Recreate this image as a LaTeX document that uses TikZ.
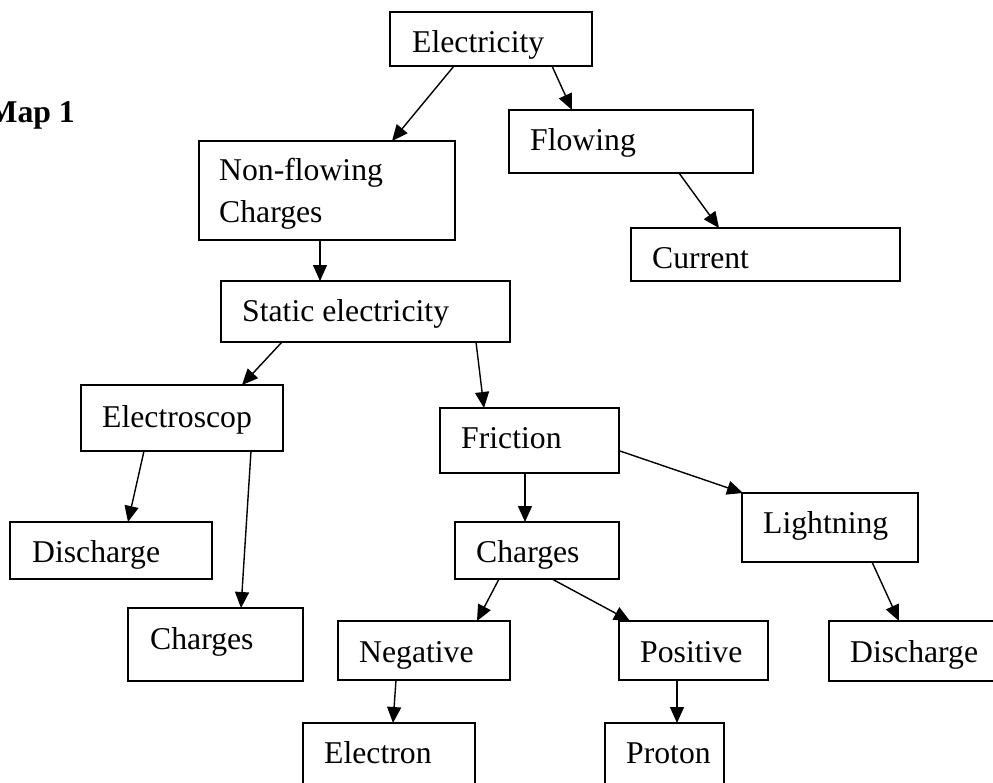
\documentclass[tikz,border=0pt]{standalone}
\usepackage{fontspec}
\setmainfont{Liberation Serif}
\usetikzlibrary{arrows.meta,calc}
\tikzset{
  box/.style={draw=black, line width=1.5pt, rectangle, inner sep=0pt, outer sep=0pt, anchor=north west},
  lbl/.style={anchor=base west, inner sep=0pt, font=\fontsize{31.7}{38}\selectfont},
  arr/.style={draw=black, line width=1.4pt, -{Triangle[length=16pt,width=14pt]}}
}
\begin{document}
\begin{tikzpicture}[x=1pt,y=-1pt]
\useasboundingbox (0,0) rectangle (993,782);
% title
\node[anchor=base east, inner sep=0pt, font=\fontsize{31.7}{38}\selectfont\bfseries] (title) at (75,122) {Map 1};
% boxes
\node[box, minimum width=202pt, minimum height=54pt] (E)  at (390,12) {};
\node[box, minimum width=244pt, minimum height=63pt] (Fl) at (509,110) {};
\node[box, minimum width=269pt, minimum height=53pt] (Cur) at (631,228) {};
\node[box, minimum width=256pt, minimum height=99pt] (NF) at (199,141) {};
\node[box, minimum width=289pt, minimum height=61pt] (St) at (221,281) {};
\node[box, minimum width=202pt, minimum height=66pt] (Es) at (81,385) {};
\node[box, minimum width=202pt, minimum height=57pt] (DL) at (10,522) {};
\node[box, minimum width=175pt, minimum height=73pt] (CL) at (128,608) {};
\node[box, minimum width=179pt, minimum height=65pt] (Fr) at (440,408) {};
\node[box, minimum width=164pt, minimum height=57pt] (CM) at (455,522) {};
\node[box, minimum width=176pt, minimum height=69pt] (Li) at (742,493) {};
\node[box, minimum width=172pt, minimum height=59pt] (Neg) at (338,621) {};
\node[box, minimum width=149pt, minimum height=59pt] (Pos) at (619,621) {};
\node[box, minimum width=171pt, minimum height=60pt] (DR) at (829,621) {};
\node[box, minimum width=172pt, minimum height=77pt] (El) at (303,723) {};
\node[box, minimum width=119pt, minimum height=77pt] (Pr) at (605,723) {};
% labels
\node[lbl] (tE)   at (412,52)  {Electricity};
\node[lbl] (tFl)  at (530,150) {Flowing};
\node[lbl] (tCur) at (652,268) {Current};
\node[lbl] (tNF1) at (219,180) {Non-flowing};
\node[lbl] (tNF2) at (219,222) {Charges};
\node[lbl] (tSt)  at (242,321) {Static electricity};
\node[lbl] (tEs)  at (102,427) {Electroscop};
\node[lbl] (tDL)  at (32,562)  {Discharge};
\node[lbl] (tCL)  at (150,649) {Charges};
\node[lbl] (tFr)  at (461,448) {Friction};
\node[lbl] (tCM)  at (476,562) {Charges};
\node[lbl] (tLi)  at (763,533) {Lightning};
\node[lbl] (tNeg) at (359,662) {Negative};
\node[lbl] (tPos) at (640,662) {Positive};
\node[lbl] (tDR)  at (850,662) {Discharge};
\node[lbl] (tEl)  at (324,763) {Electron};
\node[lbl] (tPr)  at (626,763) {Proton};
% connectors
\draw[arr] ($(E.south west)+(64,0)$)  -- ($(NF.north west)+(193,0)$);
\draw[arr] ($(E.south west)+(162,0)$) -- ($(Fl.north west)+(63,0)$);
\draw[arr] ($(Fl.south west)+(170,0)$) -- ($(Cur.north west)+(88,0)$);
\draw[arr] ($(NF.south west)+(121,0)$) -- ($(St.north west)+(99,0)$);
\draw[arr] ($(St.south west)+(61,0)$) -- ($(Es.north west)+(161,0)$);
\draw[arr] ($(St.south west)+(255,0)$) -- ($(Fr.north west)+(44,0)$);
\draw[arr] ($(Es.south west)+(63,0)$) -- ($(DL.north west)+(118,0)$);
\draw[arr] ($(Es.south west)+(170,0)$) -- ($(CL.north west)+(113,0)$);
\draw[arr] ($(Fr.south west)+(85,0)$) -- ($(CM.north west)+(70,0)$);
\draw[arr] ($(Fr.north east)+(1,43)$) -- ($(Li.north west)+(1,0)$);
\draw[arr] ($(Li.south west)+(130,0)$) -- ($(DR.north west)+(70,0)$);
\draw[arr] ($(CM.south west)+(44,0)$) -- ($(Neg.north west)+(139,0)$);
\draw[arr] ($(CM.south west)+(97,0)$) -- ($(Pos.north west)+(11,0)$);
\draw[arr] ($(Neg.south west)+(58,0)$) -- ($(El.north west)+(90,0)$);
\draw[arr] ($(Pos.south west)+(58,0)$) -- ($(Pr.north west)+(72,0)$);
\end{tikzpicture}
\end{document}
